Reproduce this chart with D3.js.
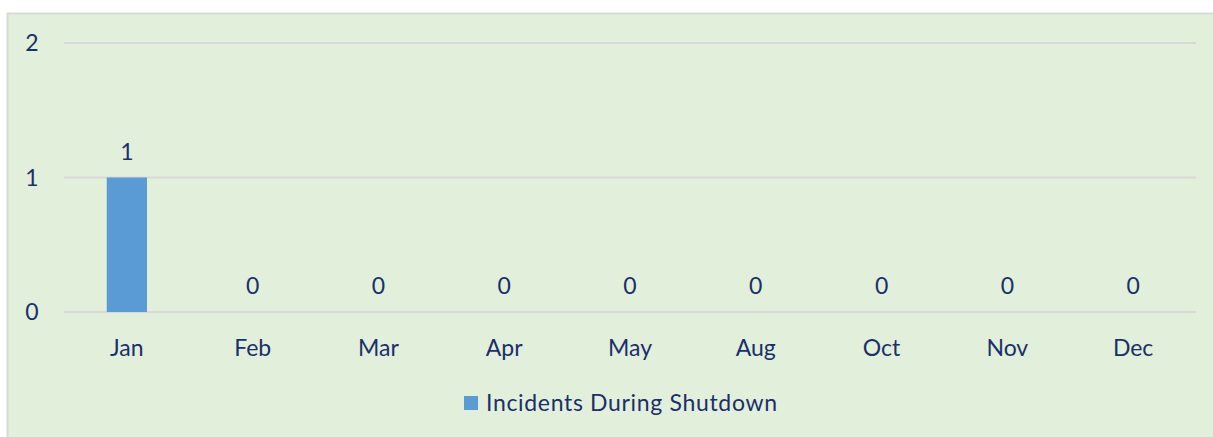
<!DOCTYPE html>
<html>
<head>
<meta charset="utf-8">
<script src="https://cdn.jsdelivr.net/npm/d3@7"></script>
<style>
  body { margin: 0; background: #fff; }
  text { font-family: Lato, "Open Sans", sans-serif; fill: #1a2f6b; }
</style>
</head>
<body>
<div id="chart"></div>
<script>
// chart data
var months = ["Jan", "Feb", "Mar", "Apr", "May", "Aug", "Oct", "Nov", "Dec"];
var incidents = [1, 0, 0, 0, 0, 0, 0, 0, 0];
var yTicks = [0, 1, 2];
var seriesName = "Incidents During Shutdown";

var width = 1213,
    height = 437,
    margin = {top: 43, right: 17, bottom: 125, left: 64},
    fontSize = "23px";

var svg = d3.select("#chart").append("svg")
    .attr("width", width)
    .attr("height", height);

// chart area background
svg.append("rect")
    .attr("x", 7.5)
    .attr("y", 13.5)
    .attr("width", width)
    .attr("height", height)
    .attr("fill", "#e2efda")
    .attr("stroke", "#d9d9d9")
    .attr("stroke-width", 2);

var x = d3.scaleBand()
    .domain(months)
    .range([margin.left, width - margin.right])
    .paddingInner(0.68)
    .paddingOuter(0.34);

var y = d3.scaleLinear()
    .domain([0, 2])
    .range([height - margin.bottom, margin.top]);

// gridlines
svg.append("g")
  .selectAll("line")
    .data(yTicks)
  .enter().append("line")
    .attr("x1", margin.left)
    .attr("x2", width - margin.right)
    .attr("y1", function(d) { return y(d); })
    .attr("y2", function(d) { return y(d); })
    .attr("stroke", "#d9d9d9")
    .attr("stroke-width", 2);

// y axis labels
svg.append("g")
  .selectAll("text")
    .data(yTicks)
  .enter().append("text")
    .attr("x", 32)
    .attr("y", function(d) { return y(d); })
    .attr("dy", "0.35em")
    .attr("text-anchor", "middle")
    .style("font-size", fontSize)
    .text(function(d) { return d; });

// bars
svg.append("g")
  .selectAll("rect")
    .data(incidents)
  .enter().append("rect")
    .attr("x", function(d, i) { return x(months[i]); })
    .attr("y", function(d) { return y(d); })
    .attr("width", x.bandwidth())
    .attr("height", function(d) { return y(0) - y(d); })
    .attr("fill", "#5b9bd5");

// value labels
svg.append("g")
  .selectAll("text")
    .data(incidents)
  .enter().append("text")
    .attr("x", function(d, i) { return x(months[i]) + x.bandwidth() / 2; })
    .attr("y", function(d) { return y(d) - 26; })
    .attr("dy", "0.35em")
    .attr("text-anchor", "middle")
    .style("font-size", fontSize)
    .text(function(d) { return d; });

// category labels
svg.append("g")
  .selectAll("text")
    .data(months)
  .enter().append("text")
    .attr("x", function(d) { return x(d) + x.bandwidth() / 2; })
    .attr("y", y(0) + 36)
    .attr("dy", "0.35em")
    .attr("text-anchor", "middle")
    .style("font-size", fontSize)
    .text(function(d) { return d; });

// legend
var legend = svg.append("g")
    .attr("transform", "translate(464,396)");

legend.append("rect")
    .attr("width", 14)
    .attr("height", 14)
    .attr("fill", "#5b9bd5");

legend.append("text")
    .attr("x", 22)
    .attr("y", 7)
    .attr("dy", "0.35em")
    .attr("textLength", 291)
    .style("font-size", fontSize)
    .text(seriesName);
</script>
</body>
</html>
